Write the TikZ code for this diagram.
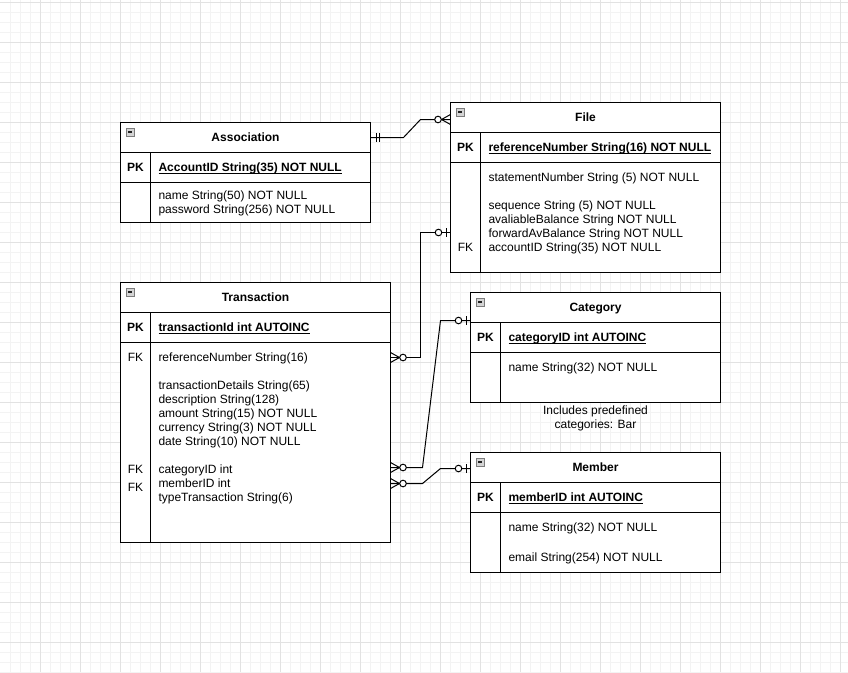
\documentclass[tikz,border=0pt]{standalone}
\usepackage{fontspec}
\setmainfont{Liberation Sans}
\usetikzlibrary{calc}
\definecolor{gridminor}{HTML}{F3F3F3}
\definecolor{gridmajor}{HTML}{E2E2E2}
\definecolor{iconborder}{HTML}{7C7C7C}
\definecolor{iconfill}{HTML}{D4D4D4}
\definecolor{iconminus}{HTML}{222222}
\newcommand\ERzeroMany[2]{%
  \draw[conn] ($(#1)+(0,-5)$) -- ($(#1)+(#2*9,0)$) -- ($(#1)+(0,5)$);
  \draw[conn,fill=white] ($(#1)+(#2*12.5,0)$) circle[radius=3.3];}
\newcommand\ERzeroOne[2]{%
  \draw[conn] ($(#1)+(#2*4,-4.5)$) -- ($(#1)+(#2*4,4.5)$);
  \draw[conn,fill=white] ($(#1)+(#2*12,0)$) circle[radius=3.3];}
\newcommand\ERmandOne[2]{%
  \draw[conn] ($(#1)+(#2*6,-4.5)$) -- ($(#1)+(#2*6,4.5)$);
  \draw[conn] ($(#1)+(#2*9,-4.5)$) -- ($(#1)+(#2*9,4.5)$);}
\begin{document}
\begin{tikzpicture}[x=0.75pt,y=-0.75pt,
  every node/.style={inner sep=0pt,outer sep=0pt},
  gminor/.style={draw=gridminor,line width=0.75pt},
  gmajor/.style={draw=gridmajor,line width=0.75pt},
  tbl/.style={draw=black,fill=white,line width=0.75pt,anchor=north west},
  tline/.style={draw=black,line width=0.75pt},
  conn/.style={draw=black,line width=0.75pt},
  uline/.style={draw=black,line width=0.75pt},
  iconbox/.style={draw=iconborder,fill=iconfill,line width=0.75pt},
  iconline/.style={draw=iconminus,line width=0.9pt},
  title/.style={font=\fontsize{9}{10.8}\selectfont\bfseries,anchor=base},
  pklbl/.style={font=\fontsize{9}{10.8}\selectfont\bfseries,anchor=base},
  fklbl/.style={font=\fontsize{9}{10.8}\selectfont,anchor=base},
  pkfield/.style={font=\fontsize{9}{10.8}\selectfont\bfseries,anchor=base west},
  fieldtxt/.style={font=\fontsize{9}{10.8}\selectfont,anchor=base west},
  notetxt/.style={font=\fontsize{9}{10.8}\selectfont,anchor=base}]
\useasboundingbox (0,0) rectangle (848,672);
\fill[white] (0,0) rectangle (848,672);
% grid
\foreach \x in {10,20,...,840} \draw[gminor] (\x+0.5,0) -- (\x+0.5,672);
\foreach \y in {2,12,...,672} \draw[gminor] (0,\y+0.5) -- (848,\y+0.5);
\foreach \x in {40,80,...,840} \draw[gmajor] (\x+0.5,0) -- (\x+0.5,672);
\foreach \y in {2,42,...,672} \draw[gmajor] (0,\y+0.5) -- (848,\y+0.5);
\begin{scope}[shift={(0.5,0.5)}]
% tables
\node[tbl,minimum width=187.5pt,minimum height=75pt] (assoc) at (120,122) {};
\node[tbl,minimum width=202.5pt,minimum height=127.5pt] (file) at (450,102) {};
\node[tbl,minimum width=202.5pt,minimum height=195pt] (trans) at (120,282) {};
\node[tbl,minimum width=187.5pt,minimum height=82.5pt] (cat) at (470,292) {};
\node[tbl,minimum width=187.5pt,minimum height=90pt] (member) at (470,452) {};
\foreach \t in {assoc,file,trans,cat,member} {
  \draw[tline] ($(\t.north west)+(0,30)$) -- ($(\t.north east)+(0,30)$);
  \draw[tline] ($(\t.north west)+(0,60)$) -- ($(\t.north east)+(0,60)$);
  \draw[tline] ($(\t.north west)+(30,30)$) -- ($(\t.south west)+(30,0)$);
  \draw[iconbox] ($(\t.north west)+(5.5,5.5)$) rectangle ++(8,8);
  \draw[iconline] ($(\t.north west)+(7.5,9.5)$) -- ++(4,0);
}
% Association
\node[title] (assocT) at (245,141.3) {Association};
\node[pklbl] (assocPK) at (135,171.3) {PK};
\node[pkfield] (assocK) at (158,171.3) {AccountID String(35) NOT NULL};
\node[fieldtxt] (assocF1) at (158,199.3) {name String(50) NOT NULL};
\node[fieldtxt] (assocF2) at (158,213.3) {password String(256) NOT NULL};
% File
\node[title] (fileT) at (585,121.3) {File};
\node[pklbl] (filePK) at (465,151.3) {PK};
\node[pkfield] (fileK) at (488,151.3) {referenceNumber String(16) NOT NULL};
\node[fieldtxt] (fileF1) at (488,181.3) {statementNumber String (5) NOT NULL};
\node[fieldtxt] (fileF2) at (488,209.3) {sequence String (5) NOT NULL};
\node[fieldtxt] (fileF3) at (488,223.3) {avaliableBalance String NOT NULL};
\node[fieldtxt] (fileF4) at (488,237.3) {forwardAvBalance String NOT NULL};
\node[fieldtxt] (fileF5) at (488,251.3) {accountID String(35) NOT NULL};
\node[fklbl] (fileFK) at (465,251.3) {FK};
% Transaction
\node[title] (transT) at (255,301.3) {Transaction};
\node[pklbl] (transPK) at (135,331.3) {PK};
\node[pkfield] (transK) at (158,331.3) {transactionId int AUTOINC};
\node[fklbl] (transFK1) at (135,361.3) {FK};
\node[fieldtxt] (transF1) at (158,361.3) {referenceNumber String(16)};
\node[fieldtxt] (transF2) at (158,389.3) {transactionDetails String(65)};
\node[fieldtxt] (transF3) at (158,403.3) {description String(128)};
\node[fieldtxt] (transF4) at (158,417.3) {amount String(15) NOT NULL};
\node[fieldtxt] (transF5) at (158,431.3) {currency String(3) NOT NULL};
\node[fieldtxt] (transF6) at (158,445.3) {date String(10) NOT NULL};
\node[fklbl] (transFK2) at (135,472.5) {FK};
\node[fieldtxt] (transF7) at (158,473.3) {categoryID int};
\node[fklbl] (transFK3) at (135,490.5) {FK};
\node[fieldtxt] (transF8) at (158,487.3) {memberID int};
\node[fieldtxt] (transF9) at (158,501.3) {typeTransaction String(6)};
% Category
\node[title] (catT) at (595,311.3) {Category};
\node[pklbl] (catPK) at (485,341.3) {PK};
\node[pkfield] (catK) at (508,341.3) {categoryID int AUTOINC};
\node[fieldtxt] (catF1) at (508,371.3) {name String(32) NOT NULL};
\node[notetxt] (note1) at (595,414.3) {Includes predefined};
\node[notetxt] (note2) at (595,428.3) {categories: Bar};
% Member
\node[title] (memT) at (595,471.3) {Member};
\node[pklbl] (memPK) at (485,501.3) {PK};
\node[pkfield] (memK) at (508,501.3) {memberID int AUTOINC};
\node[fieldtxt] (memF1) at (508,531.3) {name String(32) NOT NULL};
\node[fieldtxt] (memF2) at (508,561.3) {email String(254) NOT NULL};
% underlines of primary keys
\foreach \n in {assocK,fileK,transK,catK,memK}
  \draw[uline] ([yshift=-1.1pt]\n.base west) -- ([yshift=-1.1pt]\n.base east);
% connection points
\coordinate (cA) at ($(assoc.north east)+(0,15)$);
\coordinate (cF1) at ($(file.north west)+(0,17)$);
\coordinate (cF2) at ($(file.north west)+(0,130)$);
\coordinate (cT1) at ($(trans.north east)+(0,75)$);
\coordinate (cT2) at ($(trans.north east)+(0,185)$);
\coordinate (cT3) at ($(trans.north east)+(0,201)$);
\coordinate (cC) at ($(cat.north west)+(0,28)$);
\coordinate (cM) at ($(member.north west)+(0,16)$);
% connectors
\draw[conn] (cA) -- ++(33,0) -- ($(cF1)+(-30,0)$) -- (cF1);
\draw[conn] (cF2) -- ++(-30,0) |- (cT1);
\draw[conn] (cT2) -- ++(32,0) -- ($(cC)+(-30,0)$) -- (cC);
\draw[conn] (cT3) -- ++(32,0) -- ($(cM)+(-30,0)$) -- (cM);
% end markers
\ERmandOne{cA}{1}
\ERzeroMany{cF1}{-1}
\ERzeroOne{cF2}{-1}
\ERzeroMany{cT1}{1}
\ERzeroMany{cT2}{1}
\ERzeroMany{cT3}{1}
\ERzeroOne{cC}{-1}
\ERzeroOne{cM}{-1}
\end{scope}
\end{tikzpicture}
\end{document}
